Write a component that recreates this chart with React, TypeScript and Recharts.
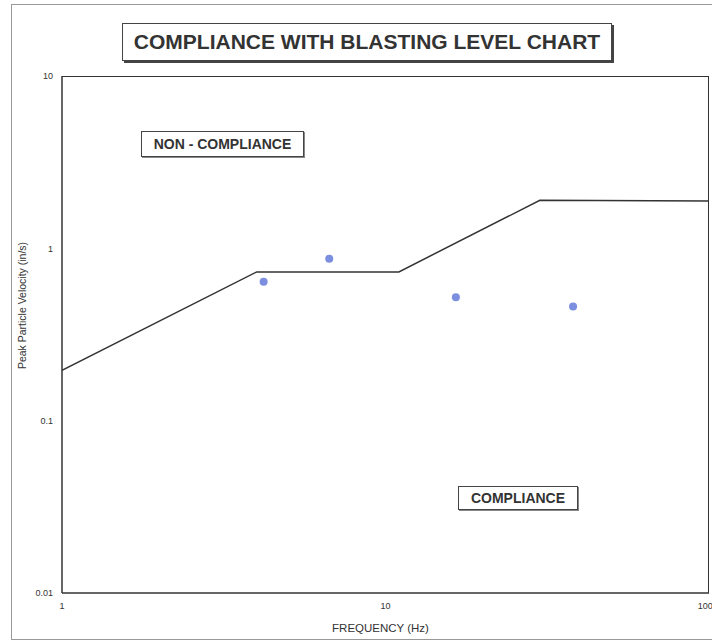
import React from 'react';
import { ComposedChart, Line, Scatter, XAxis, YAxis } from 'recharts';

const limitFreq = [1, 4, 11, 30, 100];
const limitPpv = [0.196, 0.73, 0.73, 1.9, 1.88];
const blastFreq = [4.2, 6.7, 16.5, 38];
const blastPpv = [0.64, 0.87, 0.52, 0.46];
const xTicks = [1, 10, 100];
const yTicks = [0.01, 0.1, 1, 10];

const limitData = limitFreq.map((x, i) => ({ x, y: limitPpv[i] }));
const blastData = blastFreq.map((x, i) => ({ x, y: blastPpv[i] }));

const FONT = '"Liberation Sans", Arial, sans-serif';

const box = (left: number, top: number, width: number, height: number, fontSize: number, text: string, shadow: boolean) => (
  <div
    style={{
      position: 'absolute',
      left,
      top,
      width,
      height,
      boxSizing: 'border-box',
      border: '1px solid #444',
      boxShadow: shadow ? '2px 2px 0 #444' : '1px 1px 0 #888',
      background: '#fff',
      display: 'flex',
      alignItems: 'center',
      justifyContent: 'center',
      fontFamily: FONT,
      fontWeight: 'bold',
      fontSize,
      color: '#333',
      whiteSpace: 'nowrap',
    }}
  >
    {text}
  </div>
);

export default function App() {
  return (
    <div style={{ position: 'absolute', left: 0, top: 0, width: 712, height: 644, background: '#fff', overflow: 'hidden' }}>
      <div style={{ position: 'absolute', left: 11, top: 4, width: 720, height: 636, border: '1px solid #999', boxSizing: 'border-box' }} />
      <ComposedChart width={712} height={644} margin={{ top: 76, right: 3, bottom: 0, left: 12 }}>
        <XAxis
          type="number"
          dataKey="x"
          scale="log"
          domain={[1, 100]}
          ticks={xTicks}
          allowDataOverflow
          tickLine={false}
          tickSize={0}
          tickMargin={10}
          height={51}
          axisLine={{ stroke: '#333', strokeWidth: 1.5 }}
          tick={{ fontSize: 9, fill: '#333', fontFamily: FONT }}
          label={{ value: 'FREQUENCY  (Hz)', position: 'insideBottom', offset: 12, dx: -5, style: { fontSize: 11.5, fill: '#333', fontFamily: FONT } }}
        />
        <YAxis
          type="number"
          dataKey="y"
          scale="log"
          domain={[0.01, 10]}
          ticks={yTicks}
          allowDataOverflow
          tickLine={false}
          tickSize={0}
          tickMargin={9}
          width={50}
          axisLine={{ stroke: '#333', strokeWidth: 1.5 }}
          tick={{ fontSize: 9, fill: '#333', fontFamily: FONT }}
          label={{ value: 'Peak Particle Velocity (in/s)', angle: -90, position: 'insideLeft', offset: 10, dy: -29, style: { fontSize: 10.5, fill: '#333', fontFamily: FONT, textAnchor: 'middle' } }}
        />
        <Line data={limitData} dataKey="y" type="linear" stroke="#333" strokeWidth={1.5} dot={false} isAnimationActive={false} />
        <Scatter data={blastData} dataKey="y" fill="#7b8ee0" shape={(p: any) => <circle cx={p.cx} cy={p.cy} r={4} fill="#7b8ee0" />} isAnimationActive={false} />
      </ComposedChart>
      <div style={{ position: 'absolute', left: 62, top: 76, width: 647, height: 517, border: '1.5px solid #333', boxSizing: 'border-box', borderLeft: 'none', borderBottom: 'none', pointerEvents: 'none' }} />
      {box(122, 23, 490, 38, 21, 'COMPLIANCE WITH BLASTING LEVEL CHART', true)}
      {box(141, 131, 163, 26, 14, 'NON - COMPLIANCE', false)}
      {box(458, 486, 120, 24, 14, 'COMPLIANCE', false)}
    </div>
  );
}
